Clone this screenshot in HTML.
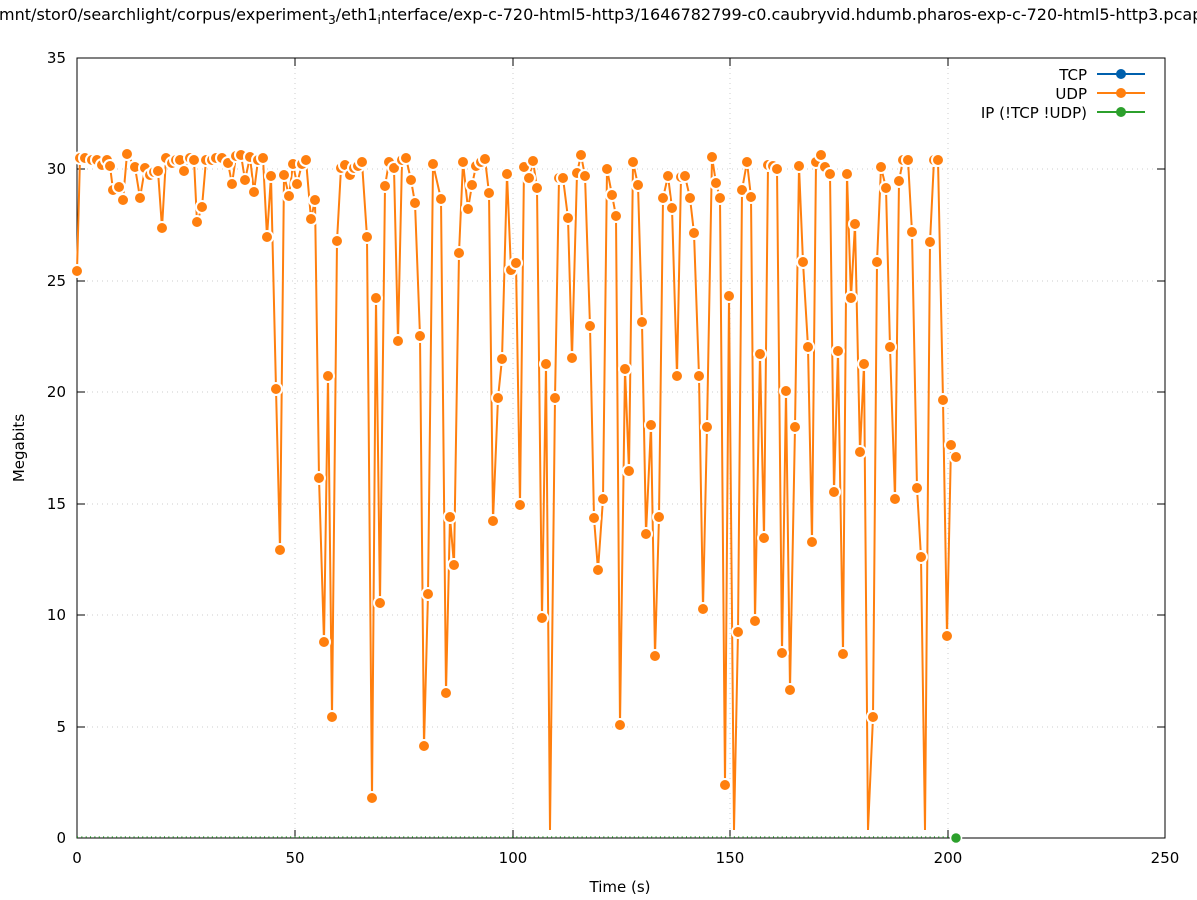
<!DOCTYPE html>
<html><head><meta charset="utf-8"><style>
html,body{margin:0;padding:0;background:#fff;overflow:hidden;}
svg{display:block;font-family:"DejaVu Sans","Liberation Sans",sans-serif;}
</style></head><body>
<svg id="s" width="1197" height="900" viewBox="0 0 1197 900" xmlns="http://www.w3.org/2000/svg">
<rect width="1197" height="900" fill="#fff"/>
<text x="598" y="20" font-size="16" text-anchor="middle">/mnt/stor0/searchlight/corpus/experiment<tspan font-size="12" dy="4">3</tspan><tspan dy="-4">/eth1</tspan><tspan font-size="12" dy="4">i</tspan><tspan dy="-4">nterface/exp-c-720-html5-http3/1646782799-c0.caubryvid.hdumb.pharos-exp-c-720-html5-http3.pcap</tspan></text>
<g stroke="#ccc" stroke-width="1" stroke-dasharray="1,4">
<line x1="77" y1="727" x2="1165" y2="727"/><line x1="77" y1="615" x2="1165" y2="615"/>
<line x1="77" y1="504" x2="1165" y2="504"/><line x1="77" y1="392" x2="1165" y2="392"/>
<line x1="77" y1="281" x2="1165" y2="281"/><line x1="77" y1="169" x2="1165" y2="169"/>
<line x1="295" y1="58" x2="295" y2="838"/><line x1="513" y1="58" x2="513" y2="838"/>
<line x1="730" y1="58" x2="730" y2="838"/><line x1="948" y1="58" x2="948" y2="838"/>
</g>
<g stroke="#000" stroke-width="1">
<rect x="77" y="58" width="1088" height="780" fill="none"/>
<path d="M77 727h8M77 615h8M77 504h8M77 392h8M77 281h8M77 169h8M1165 727h-8M1165 615h-8M1165 504h-8M1165 392h-8M1165 281h-8M1165 169h-8M295 838v-8M513 838v-8M730 838v-8M948 838v-8M295 58v8M513 58v8M730 58v8M948 58v8"/>
</g>
<g font-size="15" text-anchor="end">
<text x="66" y="843">0</text><text x="66" y="732">5</text><text x="66" y="620">10</text><text x="66" y="509">15</text><text x="66" y="397">20</text><text x="66" y="286">25</text><text x="66" y="174">30</text><text x="66" y="63">35</text>
</g>
<g font-size="15" text-anchor="middle">
<text x="77" y="863">0</text><text x="295" y="863">50</text><text x="513" y="863">100</text><text x="730" y="863">150</text><text x="948" y="863">200</text><text x="1165" y="863">250</text>
<text x="620" y="892">Time (s)</text>
<text transform="translate(24,448) rotate(-90)">Megabits</text>
</g>
<g font-size="15" text-anchor="end">
<text x="1087" y="80">TCP</text><text x="1087" y="99">UDP</text><text x="1087" y="118">IP (!TCP  !UDP)</text>
</g>
<g stroke-width="2">
<line x1="1097" y1="74" x2="1145" y2="74" stroke="#0060ad"/><circle cx="1121" cy="74" r="5" fill="#0060ad"/>
<line x1="1097" y1="93" x2="1145" y2="93" stroke="#ff7f0e"/><circle cx="1121" cy="93" r="5" fill="#ff7f0e"/>
<line x1="1097" y1="112" x2="1145" y2="112" stroke="#2ca02c"/><circle cx="1121" cy="112" r="5" fill="#2ca02c"/>
</g>
<line x1="77" y1="837" x2="956" y2="837" stroke="#2ca02c" stroke-width="1.5" stroke-dasharray="1,3.35"/>
<circle cx="956" cy="838" r="5.5" fill="#2ca02c" stroke="#fff" stroke-width="1.5"/>
<g id="udp"></g>
</svg>
<script>
var P=[77,271,80,158,85,158,92,160,97,160,102,165,107,160,110,166,113,190,119,187,123,200,127,154,135,167,140,198,145,168,150,175,154,172,158,171,162,228,166,158,172,163,176,160,180,160,184,171,190,158,194,160,197,222,202,207,206,160,212,160,216,158,222,158,228,163,232,184,236,156,241,155,245,180,250,157,254,192,258,160,263,158,267,237,271,176,276,389,280,550,284,175,289,196,293,164,297,184,302,164,306,160,311,219,315,200,319,478,324,642,328,376,332,717,337,241,341,168,345,165,350,175,354,168,358,166,362,162,367,237,372,798,376,298,380,603,385,186,389,162,394,168,398,341,402,160,406,158,411,180,415,203,420,336,424,746,428,594,433,164,441,199,446,693,450,517,454,565,459,253,463,162,468,209,472,185,476,166,481,162,485,159,489,193,493,521,498,398,502,359,507,174,511,270,516,263,520,505,524,167,529,178,533,161,537,188,542,618,546,364,550,830,555,398,559,178,563,178,568,218,572,358,577,173,581,155,585,176,590,326,594,518,598,570,603,499,607,169,612,195,616,216,620,725,625,369,629,471,633,162,638,185,642,322,646,534,651,425,655,656,659,517,663,198,668,176,672,208,677,376,681,177,685,176,690,198,694,233,699,376,703,609,707,427,712,157,716,183,720,198,725,785,729,296,734,830,738,632,742,190,747,162,751,197,755,621,760,354,764,538,768,165,773,166,777,169,782,653,786,391,790,690,795,427,799,166,803,262,808,347,812,542,816,162,821,155,825,167,830,174,834,492,838,351,843,654,847,174,851,298,855,224,860,452,864,364,868,830,873,717,877,262,881,167,886,188,890,347,895,499,899,181,903,160,908,160,912,232,917,488,921,557,925,830,930,242,934,160,938,160,943,400,947,636,951,445,956,457];
var g=document.getElementById('udp'),ns='http://www.w3.org/2000/svg',pts=[];
for(var i=0;i<P.length;i+=2)pts.push(P[i]+','+P[i+1]);
var pl=document.createElementNS(ns,'polyline');
pl.setAttribute('points',pts.join(' '));pl.setAttribute('fill','none');pl.setAttribute('stroke','#ff7f0e');pl.setAttribute('stroke-width','2');
g.appendChild(pl);
for(var i=0;i<P.length;i+=2){if(P[i+1]>=828)continue;var c=document.createElementNS(ns,'circle');
c.setAttribute('cx',P[i]);c.setAttribute('cy',P[i+1]);c.setAttribute('r','6');c.setAttribute('fill','#ff7f0e');c.setAttribute('stroke','#fff');c.setAttribute('stroke-width','2');g.appendChild(c);}
</script>
</body></html>
